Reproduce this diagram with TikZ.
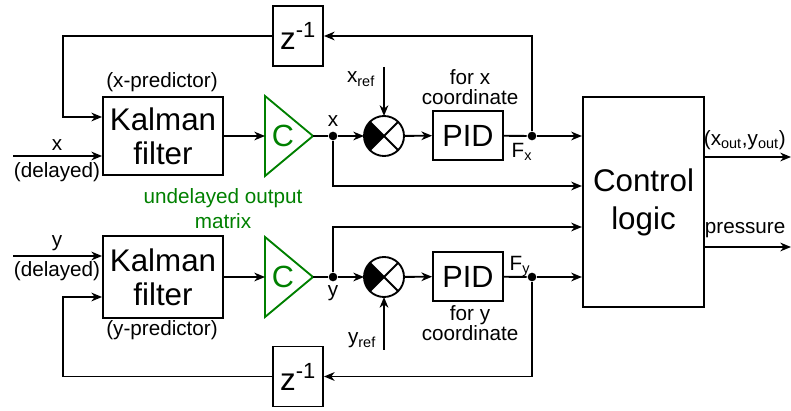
\documentclass[tikz,border=0pt]{standalone}
\usepackage{fontspec}
\setmainfont{Liberation Sans}
\usetikzlibrary{arrows.meta}
\definecolor{matgreen}{RGB}{0,128,0}

\begin{document}
\begin{tikzpicture}[x=0.75pt, y=0.75pt, line width=1.4pt,
  >={Stealth[length=8pt,width=6.5pt,inset=2.5pt]},
  font=\fontsize{15.5}{18}\selectfont,
  blk/.style={draw, inner sep=0pt, align=center, font=\fontsize{23.5}{25.5}\selectfont},
  dot/.style={circle, fill, inner sep=0pt, minimum size=6.5pt},
  sumj/.style={circle, draw, inner sep=0pt, outer sep=0pt, minimum size=30pt},
  note/.style={align=center, font=\fontsize{15.5}{15}\selectfont}]

\useasboundingbox (0,0) rectangle (791,410);

% Kalman filters
\node[blk, minimum width=90pt, minimum height=59pt] (kx) at (163,274) {Kalman\\filter};
\node[blk, minimum width=90pt, minimum height=61pt] (ky) at (163,133) {Kalman\\filter};
\node (kxlbl) at (162,328) {(x-predictor)};
\node (kylbl) at (162,80) {(y-predictor)};

% Delay blocks
\node[blk, minimum width=37.5pt, minimum height=45pt] (zx) at (298,374) {z\textsuperscript{-1}};
\node[blk, minimum width=37.5pt, minimum height=45pt] (zy) at (298,33.5) {z\textsuperscript{-1}};

% Control logic
\node[blk, minimum width=91pt, minimum height=157.5pt,
  font=\fontsize{23.5}{28.5}\selectfont] (ctrl) at (643.5,208) {Control\\logic};

% Both loops (x on top, y below)
\foreach \n/\y in {x/274, y/133}
{
  % output matrix C
  \draw[matgreen] (265,\y+40) -- (313,\y) -- (265,\y-40) -- cycle;
  \coordinate (c\n-in) at (265,\y);
  \coordinate (c\n-out) at (313,\y);
  \node[text=matgreen, font=\fontsize{23}{25}\selectfont] (c\n) at (283,\y) {C};
  % summing junction
  \node[sumj] (s\n) at (384,\y) {};
  \fill (s\n.center) -- ++(135:15pt) arc[start angle=135, end angle=225, radius=15pt] -- cycle;
  \draw (s\n.45) -- (s\n.225) (s\n.135) -- (s\n.315);
  % PID
  \node[blk, minimum width=52.5pt, minimum height=37pt, font=\fontsize{23}{25}\selectfont] (pid\n) at (468,\y+0.5) {PID};
  \node[dot] (d\n) at (333,\y) {};
  \node[dot] (f\n) at (532,\y) {};
  % forward path
  \draw[->] (k\n) -- (c\n-in);
  \draw (c\n-out) -- (d\n);
  \draw[->] (d\n) -- (s\n);
  \draw[->] (s\n) -- (pid\n);
  \draw (pid\n) -- (f\n);
  \draw[->] (f\n) -- (f\n -| ctrl.west);
}

% Feedback through z^-1
\coordinate (fbx) at (63,293);
\coordinate (fby) at (63,113);
\draw[->] (fx) |- (zx);
\draw[->] (zx) -| (fbx) -- (fbx -| kx.west);
\draw[->] (fy) |- (zy);
\draw[->] (zy) -| (fby) -- (fby -| ky.west);

% Direct x, y to control logic
\coordinate (bx) at (333,224);
\coordinate (by) at (333,183);
\draw[->] (dx) -- (bx) -- (bx -| ctrl.west);
\draw[->] (dy) -- (by) -- (by -| ctrl.west);

% Measured inputs
\coordinate (xin) at (13,254);
\coordinate (yin) at (13,154);
\draw[->] (xin) -- (xin -| kx.west);
\draw[->] (yin) -- (yin -| ky.west);
\node (xinlbl) at (57,265) {x};
\node (xdel) at (57,238) {(delayed)};
\node (yinlbl) at (57,167) {y};
\node (ydel) at (57,139) {(delayed)};

% References
\coordinate (xref) at (384,343);
\coordinate (yref) at (384,60);
\draw[->] (xref) -- (sx);
\draw[->] (yref) -- (sy);
\node (xreflbl) at (361,331) {x\textsubscript{ref}};
\node (yreflbl) at (362,70) {y\textsubscript{ref}};

% Signal labels
\node (xlbl) at (333,289) {x};
\node (ylbl) at (333,117) {y};
\node (fxlbl) at (522,258) {F\textsubscript{x}};
\node (fylbl) at (520,144) {F\textsubscript{y}};
\node[note] (pidxlbl) at (470,323) {for x\\coordinate};
\node[note] (pidylbl) at (470,87) {for y\\coordinate};
\node[align=center, text=matgreen, font=\fontsize{15.5}{18.75}\selectfont] (cmat) at (223,201) {undelayed output\\matrix};

% Outputs
\coordinate (o1) at (791,253);
\coordinate (o2) at (791,163);
\draw[->] (o1 -| ctrl.east) -- (o1);
\draw[->] (o2 -| ctrl.east) -- (o2);
\node[anchor=west, inner sep=0pt] (o1lbl) at (703,270) {(x\textsubscript{out},y\textsubscript{out})};
\node[anchor=west, inner sep=0pt] (o2lbl) at (704,180) {pressure};

\end{tikzpicture}
\end{document}
